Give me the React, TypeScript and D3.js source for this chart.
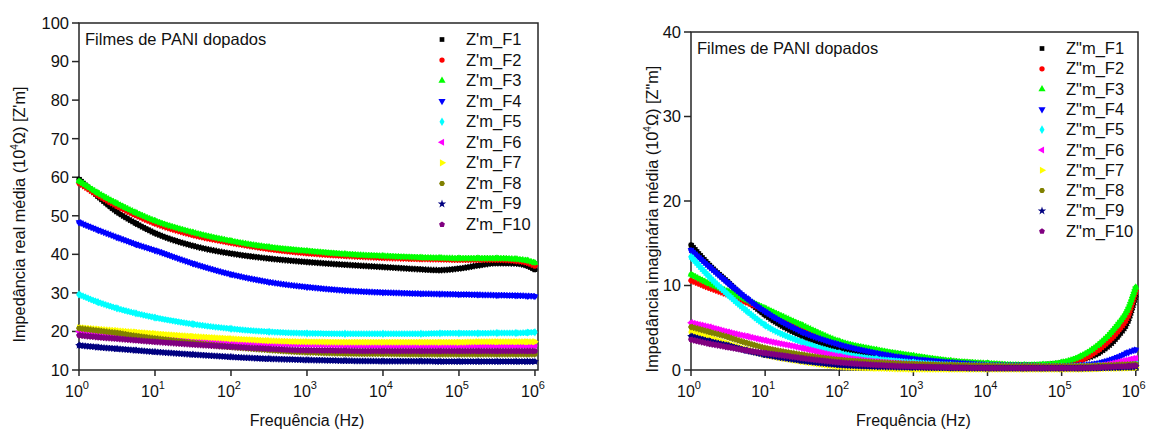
import React from "react";
import * as d3 from "d3";

// ---------- data ----------
const FREQ = [1, 1.778, 3.162, 5.623, 10, 31.62, 100, 316.2, 1000, 3162, 10000, 31623, 56234, 100000, 177828, 316228, 562341, 794328, 1000000];

const SERIES = ["F1", "F2", "F3", "F4", "F5", "F6", "F7", "F8", "F9", "F10"];
const COLORS = ["#000000", "#ff0000", "#00ff00", "#0000ff", "#00ffff", "#ff00ff", "#ffff00", "#808000", "#000080", "#800080"];
const MARKERS = ["square", "circle", "triUp", "triDown", "diamond", "triLeft", "triRight", "hexagon", "star", "pentagon"];

// Z' (real part), 10^4 ohm
const REAL_F1 = [59.5, 55, 51, 48, 45.5, 42.2, 40.2, 38.9, 38.0, 37.3, 36.7, 36.1, 35.9, 36.3, 37.1, 37.7, 37.6, 37.0, 36.0];
const REAL_F2 = [58.5, 55.3, 52.5, 50.1, 48.0, 45.0, 43.0, 41.4, 40.3, 39.6, 39.1, 38.8, 38.7, 38.6, 38.6, 38.6, 38.3, 37.8, 37.0];
const REAL_F3 = [59.0, 55.9, 53.2, 50.8, 48.7, 45.7, 43.5, 41.9, 40.9, 40.1, 39.6, 39.2, 39.1, 39.0, 39.0, 39.0, 38.8, 38.4, 37.8];
const REAL_F4 = [48.3, 46.3, 44.4, 42.6, 41.0, 37.6, 34.8, 32.8, 31.5, 30.6, 30.1, 29.8, 29.7, 29.6, 29.5, 29.4, 29.3, 29.2, 29.1];
const REAL_F5 = [29.6, 27.6, 26.0, 24.7, 23.6, 21.9, 20.7, 19.9, 19.5, 19.4, 19.4, 19.4, 19.5, 19.5, 19.5, 19.6, 19.6, 19.7, 19.8];
const REAL_F6 = [20.0, 19.5, 19.0, 18.6, 18.2, 17.6, 17.2, 16.8, 16.6, 16.4, 16.3, 16.3, 16.3, 16.3, 16.3, 16.3, 16.3, 16.3, 16.3];
const REAL_F7 = [21.0, 20.6, 20.2, 19.8, 19.4, 18.7, 18.1, 17.6, 17.3, 17.2, 17.2, 17.2, 17.2, 17.2, 17.3, 17.3, 17.3, 17.3, 17.3];
const REAL_F8 = [20.8, 20.2, 19.6, 18.8, 18.2, 17.0, 16.0, 15.2, 14.6, 14.3, 14.2, 14.1, 14.1, 14.1, 14.1, 14.1, 14.1, 14.1, 14.1];
const REAL_F9 = [16.4, 15.9, 15.5, 15.1, 14.7, 14.0, 13.4, 12.9, 12.6, 12.4, 12.3, 12.3, 12.2, 12.2, 12.2, 12.2, 12.2, 12.2, 12.2];
const REAL_F10 = [19.0, 18.5, 18.1, 17.7, 17.3, 16.6, 16.0, 15.5, 15.1, 15.0, 14.9, 14.9, 14.9, 14.9, 14.9, 14.9, 14.9, 14.9, 14.9];

// Z'' (imaginary part), 10^4 ohm
const IMAG_F1 = [14.8, 12.4, 10.4, 8.3, 6.5, 4.0, 2.6, 1.8, 1.2, 0.8, 0.6, 0.55, 0.6, 0.8, 1.2, 2.0, 3.9, 5.9, 8.9];
const IMAG_F2 = [10.6, 9.7, 8.9, 8.0, 7.1, 4.9, 3.2, 2.2, 1.5, 1.0, 0.7, 0.5, 0.5, 0.6, 1.1, 2.4, 4.5, 6.5, 9.4];
const IMAG_F3 = [11.3, 10.2, 9.3, 8.3, 7.3, 5.3, 3.4, 2.4, 1.7, 1.1, 0.8, 0.6, 0.65, 0.9, 1.6, 3.0, 5.3, 7.3, 9.8];
const IMAG_F4 = [14.2, 12.2, 10.3, 8.5, 6.9, 4.5, 3.0, 2.0, 1.3, 0.9, 0.6, 0.5, 0.45, 0.45, 0.55, 0.8, 1.5, 2.1, 2.4];
const IMAG_F5 = [13.4, 11.0, 8.9, 7.0, 5.3, 3.3, 2.0, 1.3, 0.9, 0.6, 0.5, 0.4, 0.4, 0.4, 0.45, 0.5, 0.7, 0.9, 1.0];
const IMAG_F6 = [5.6, 5.1, 4.5, 4.0, 3.5, 2.6, 1.6, 1.0, 0.7, 0.5, 0.4, 0.35, 0.35, 0.35, 0.4, 0.5, 0.9, 1.2, 1.4];
const IMAG_F7 = [4.5, 3.8, 3.1, 2.4, 1.8, 1.0, 0.4, 0.2, 0.1, 0.1, 0.1, 0.1, 0.1, 0.1, 0.1, 0.15, 0.2, 0.25, 0.3];
const IMAG_F8 = [5.1, 4.5, 3.9, 3.2, 2.6, 1.8, 1.2, 0.9, 0.7, 0.6, 0.5, 0.45, 0.45, 0.45, 0.45, 0.5, 0.6, 0.65, 0.7];
const IMAG_F9 = [4.0, 3.4, 2.9, 2.3, 1.8, 1.1, 0.6, 0.4, 0.3, 0.25, 0.2, 0.2, 0.2, 0.2, 0.2, 0.25, 0.3, 0.35, 0.4];
const IMAG_F10 = [3.6, 3.1, 2.7, 2.3, 2.0, 1.4, 0.9, 0.6, 0.4, 0.3, 0.25, 0.25, 0.25, 0.25, 0.25, 0.3, 0.4, 0.45, 0.5];

const REAL = [REAL_F1, REAL_F2, REAL_F3, REAL_F4, REAL_F5, REAL_F6, REAL_F7, REAL_F8, REAL_F9, REAL_F10];
const IMAG = [IMAG_F1, IMAG_F2, IMAG_F3, IMAG_F4, IMAG_F5, IMAG_F6, IMAG_F7, IMAG_F8, IMAG_F9, IMAG_F10];

const X_TICKS = [1, 10, 100, 1000, 10000, 100000, 1000000];
const REAL_Y_TICKS = [10, 20, 30, 40, 50, 60, 70, 80, 90, 100];
const IMAG_Y_TICKS = [0, 10, 20, 30, 40];

// ---------- marker shapes ----------
const polygon = (n: number, rot: number) => ({
  draw(ctx: any, size: number) {
    const r = Math.sqrt(size / (0.5 * n * Math.sin((2 * Math.PI) / n)));
    for (let i = 0; i < n; i++) {
      const a = rot + (i * 2 * Math.PI) / n;
      const px = r * Math.sin(a);
      const py = -r * Math.cos(a);
      if (i === 0) ctx.moveTo(px, py);
      else ctx.lineTo(px, py);
    }
    ctx.closePath();
  },
});

function markerInfo(kind: string): { type: any; rotate: number } {
  switch (kind) {
    case "square": return { type: d3.symbolSquare, rotate: 0 };
    case "circle": return { type: d3.symbolCircle, rotate: 0 };
    case "triUp": return { type: d3.symbolTriangle, rotate: 0 };
    case "triDown": return { type: d3.symbolTriangle, rotate: 180 };
    case "diamond": return { type: d3.symbolDiamond, rotate: 0 };
    case "triLeft": return { type: d3.symbolTriangle, rotate: -90 };
    case "triRight": return { type: d3.symbolTriangle, rotate: 90 };
    case "hexagon": return { type: polygon(6, Math.PI / 6), rotate: 0 };
    case "star": return { type: d3.symbolStar, rotate: 0 };
    default: return { type: polygon(5, 0), rotate: 0 };
  }
}

const FONT = "Arial, 'Liberation Sans', Helvetica, sans-serif";
const AXIS = "#262626";

type PanelProps = {
  left: number;
  right: number;
  top: number;
  bottom: number;
  xMax: number;
  yDomain: [number, number];
  yTicks: number[];
  data: number[][];
  legendPrefix: string;
  legendX: number;
  legendY: number;
  legendStep: number;
  noteY: number;
  yTitle: string;
  yTitleSuffix: string;
  yTitleX: number;
};

function Panel(p: PanelProps) {
  const x = d3.scaleLog().domain([1, p.xMax]).range([p.left, p.right]);
  const y = d3.scaleLinear().domain(p.yDomain).range([p.bottom, p.top]);
  const line = d3
    .line<number>()
    .x((_, i) => x(FREQ[i]))
    .y((v) => y(v))
    .curve(d3.curveMonotoneX);
  const yMid = (p.top + p.bottom) / 2;
  const xMid = (x(1) + x(1e6)) / 2;

  return (
    <g fontFamily={FONT}>
      {/* frame */}
      <rect x={p.left} y={p.top} width={p.right - p.left} height={p.bottom - p.top} fill="none" stroke={AXIS} strokeWidth={1.5} />
      {/* y ticks */}
      {p.yTicks.map((t) => (
        <g key={"y" + t}>
          <line x1={p.left - 7} x2={p.left} y1={y(t)} y2={y(t)} stroke={AXIS} strokeWidth={1.5} />
          <text x={p.left - 10} y={y(t)} dy="0.36em" textAnchor="end" fontSize={16.5} fill="#111">
            {t}
          </text>
        </g>
      ))}
      {/* x ticks */}
      {X_TICKS.map((t) => {
        const e = Math.round(Math.log10(t));
        return (
          <g key={"x" + t}>
            <line x1={x(t)} x2={x(t)} y1={p.bottom} y2={p.bottom + 6} stroke={AXIS} strokeWidth={1.5} />
            <text x={x(t) - 2} y={397} textAnchor="middle" fontSize={16} fill="#111">
              10
              <tspan fontSize={11} dy={-8}>{e}</tspan>
            </text>
          </g>
        );
      })}
      {/* titles */}
      <text x={xMid} y={426} textAnchor="middle" fontSize={16} fill="#111">
        Frequência (Hz)
      </text>
      <text transform={`translate(${p.yTitleX},${yMid + 18}) rotate(-90)`} textAnchor="middle" fontSize={16.3} fill="#111">
        {p.yTitle}
        <tspan fontSize={10} dy={-7}>4</tspan>
        <tspan dy={7}>{p.yTitleSuffix}</tspan>
      </text>
      <text x={p.left + 6} y={p.noteY} fontSize={16.5} fill="#111">
        Filmes de PANI dopados
      </text>
      {/* series */}
      {p.data.map((vals, si) => {
        const m = markerInfo(MARKERS[si]);
        const sym = d3.symbol().type(m.type).size(20)();
        const d = line(vals) || "";
        return (
          <g key={"s" + si}>
            <path d={d} fill="none" stroke={COLORS[si]} strokeWidth={5} strokeLinejoin="round" strokeLinecap="round" />
            <path d={d} fill="none" stroke={COLORS[si]} strokeWidth={6.5} strokeDasharray="1.3 1.4" />
            {vals.map((v, i) => (
              <path key={i} d={sym || ""} transform={`translate(${x(FREQ[i])},${y(v)}) rotate(${m.rotate})`} fill={COLORS[si]} />
            ))}
          </g>
        );
      })}
      {/* legend */}
      {SERIES.map((s, si) => {
        const m = markerInfo(MARKERS[si]);
        const sym = d3.symbol().type(m.type).size(22)();
        const ly = p.legendY + si * p.legendStep;
        return (
          <g key={"l" + s}>
            <path d={sym || ""} transform={`translate(${p.legendX},${ly - 5.5}) rotate(${m.rotate})`} fill={COLORS[si]} />
            <text x={p.legendX + 24} y={ly} fontSize={16.5} fill="#111">
              {p.legendPrefix + s}
            </text>
          </g>
        );
      })}
    </g>
  );
}

export default function App() {
  return (
    <svg width={1150} height={430} style={{ position: "absolute", left: 0, top: 0, background: "#fff" }}>
      <rect width={1150} height={430} fill="#fff" />
      <Panel
        left={79}
        right={538}
        top={23}
        bottom={370}
        xMax={Math.pow(10, 6.04)}
        yDomain={[10, 100]}
        yTicks={REAL_Y_TICKS}
        data={REAL}
        legendPrefix="Z'm_"
        legendX={442}
        legendY={45}
        legendStep={20.56}
        noteY={45}
        yTitle="Impedância real média (10"
        yTitleSuffix="Ω) [Z'm]"
        yTitleX={25}
      />
      <Panel
        left={691}
        right={1138}
        top={32}
        bottom={370}
        xMax={Math.pow(10, 6.03)}
        yDomain={[0, 40]}
        yTicks={IMAG_Y_TICKS}
        data={IMAG}
        legendPrefix={'Z"m_'}
        legendX={1042}
        legendY={54}
        legendStep={20.3}
        noteY={54}
        yTitle="Impedância imaginária média (10"
        yTitleSuffix={'Ω) [Z"m]'}
        yTitleX={658}
      />
    </svg>
  );
}
